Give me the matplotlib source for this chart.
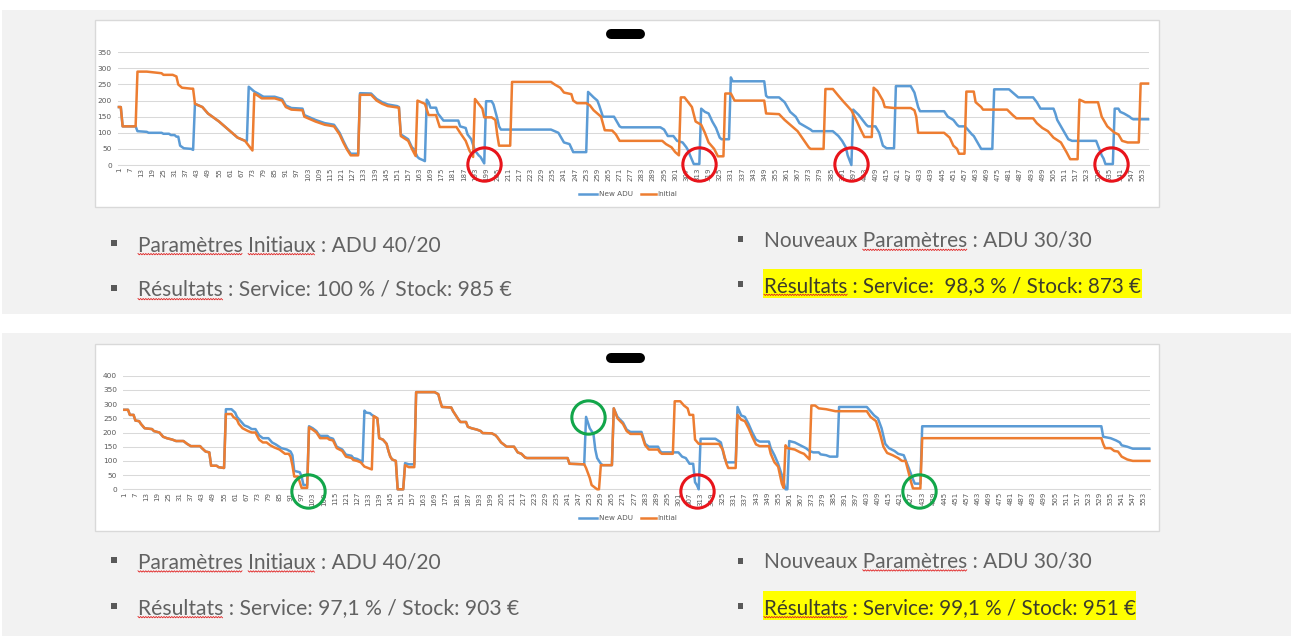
import matplotlib
matplotlib.use("Agg")
import matplotlib.pyplot as plt
from matplotlib.patches import Rectangle
from matplotlib.lines import Line2D
from matplotlib.font_manager import FontProperties
import numpy as np

# ---------------- data ----------------
n_days = 556
series_labels = ["New ADU", "Initial"]
x_ticks = list(range(1, 554, 6))
top_yticks = [0, 50, 100, 150, 200, 250, 300, 350]
bot_yticks = [0, 50, 100, 150, 200, 250, 300, 350, 400]

top_new = [(1,180),(2,180),(3,120),(10,120),(11,105),(16,103),(17,100),(24,100),(25,97),(28,97),(29,93),(31,93),(32,88),(33,88),(34,60),(36,52),(40,50),(41,47),(42,190),(46,180),(49,160),(55,135),(60,110),(65,85),(69,75),(70,75),(71,243),(72,238),(74,228),(76,222),(78,215),(79,212),(85,212),(89,205),(91,185),(94,177),(100,175),(101,155),(107,140),(112,130),(117,125),(120,100),(122,75),(124,52),(126,35),(130,35),(131,223),(137,222),(140,205),(143,195),(146,188),(151,183),(152,180),(153,95),(157,80),(159,55),(160,50),(162,25),(163,20),(165,15),(166,12),(167,203),(168,195),(169,178),(172,178),(173,160),(176,138),(184,138),(185,120),(188,115),(189,95),(191,80),(193,45),(195,30),(196,25),(197,15),(198,5),(199,198),(202,198),(203,188),(205,145),(206,120),(207,110),(234,110),(236,105),(238,100),(239,90),(241,70),(244,65),(246,40),(253,40),(254,227),(257,210),(259,200),(260,185),(262,150),(268,150),(269,140),(271,120),(272,117),(293,117),(295,110),(297,90),(300,90),(302,75),(305,70),(307,55),(308,45),(309,30),(311,3),(314,3),(315,175),(317,165),(319,160),(321,135),(323,115),(325,85),(326,80),(330,80),(331,272),(332,260),(349,260),(350,215),(351,210),(357,210),(360,195),(361,185),(363,165),(366,150),(368,130),(371,120),(374,110),(375,105),(386,105),(389,90),(391,75),(393,55),(394,30),(396,0),(397,172),(400,155),(402,140),(404,125),(405,120),(409,120),(411,100),(413,60),(415,52),(419,52),(420,245),(428,245),(430,225),(432,180),(433,167),(446,167),(448,150),(451,140),(453,125),(454,120),(457,120),(458,115),(461,95),(462,90),(464,70),(466,50),(472,50),(473,235),(481,235),(483,225),(485,215),(486,210),(494,210),(496,195),(498,175),(505,175),(506,160),(507,140),(509,120),(511,100),(513,80),(515,75),(528,75),(529,60),(530,45),(531,30),(532,20),(533,3),(537,3),(538,175),(540,175),(541,165),(543,160),(546,150),(547,145),(548,142),(556,142)]

top_init = [(1,180),(2,180),(3,120),(10,120),(11,290),(16,290),(24,285),(25,280),(30,280),(32,275),(33,250),(35,240),(40,237),(41,237),(42,190),(46,180),(49,160),(55,135),(60,110),(65,85),(69,75),(71,60),(73,45),(74,222),(76,215),(78,207),(85,207),(89,200),(91,180),(94,172),(100,170),(101,150),(107,135),(112,125),(117,120),(120,95),(122,70),(124,48),(126,30),(130,30),(131,218),(137,218),(140,200),(143,190),(146,183),(152,178),(153,90),(157,75),(159,50),(161,28),(162,200),(166,190),(168,155),(172,155),(174,118),(183,118),(185,100),(188,75),(190,45),(192,25),(193,205),(195,190),(197,175),(198,148),(202,148),(204,140),(205,95),(206,60),(212,60),(213,258),(234,258),(236,250),(239,240),(241,225),(245,220),(246,200),(248,192),(253,192),(255,185),(257,170),(259,160),(261,150),(263,108),(267,107),(269,95),(271,75),(294,75),(296,65),(299,55),(301,40),(303,30),(304,210),(306,210),(308,195),(310,180),(312,135),(315,125),(317,100),(319,70),(322,50),(324,27),(327,27),(328,222),(331,222),(333,200),(349,200),(350,160),(357,158),(360,140),(364,120),(367,105),(370,80),(373,55),(374,50),(381,50),(382,236),(386,236),(389,215),(392,195),(396,170),(399,135),(401,110),(403,87),(407,87),(408,240),(410,230),(413,200),(414,180),(419,177),(428,177),(430,170),(431,150),(432,100),(446,100),(449,85),(451,60),(453,50),(454,35),(457,35),(458,228),(462,228),(463,195),(466,180),(467,172),(480,172),(483,155),(485,145),(494,145),(496,130),(499,115),(502,105),(505,85),(509,70),(512,40),(514,18),(518,18),(519,203),(522,195),(529,195),(531,150),(534,120),(535,115),(538,100),(540,95),(542,75),(545,70),(551,70),(552,253),(556,253)]

bot_new = [(1,280),(3,280),(4,262),(6,262),(7,242),(9,240),(10,230),(12,215),(16,212),(17,205),(20,200),(22,185),(24,180),(27,175),(29,170),(33,170),(35,160),(37,152),(42,152),(43,145),(45,133),(47,130),(48,83),(51,83),(52,78),(55,75),(56,282),(59,282),(61,270),(62,255),(64,240),(66,225),(68,220),(70,212),(72,212),(74,190),(76,180),(79,180),(81,165),(83,158),(86,145),(89,140),(91,133),(92,120),(93,65),(96,60),(97,45),(98,15),(100,15),(101,222),(103,215),(105,205),(106,195),(107,188),(111,188),(112,182),(114,178),(116,150),(119,140),(121,122),(124,118),(125,110),(127,107),(129,100),(130,97),(131,277),(132,270),(134,268),(135,262),(136,258),(138,250),(139,180),(141,175),(143,160),(144,135),(145,115),(146,105),(148,100),(149,0),(152,0),(153,92),(155,88),(158,88),(159,342),(169,342),(171,335),(172,310),(173,290),(178,288),(179,275),(180,265),(182,245),(183,237),(186,237),(187,220),(189,215),(192,210),(194,205),(195,198),(200,197),(202,190),(203,183),(205,165),(207,155),(208,150),(212,150),(214,130),(216,125),(218,112),(219,110),(241,110),(242,90),(250,88),(251,255),(253,215),(255,195),(256,140),(257,110),(259,90),(260,85),(265,85),(266,285),(268,255),(271,235),(273,210),(275,202),(281,202),(283,160),(285,150),(290,150),(291,135),(292,130),(301,130),(303,115),(305,110),(307,90),(309,90),(310,25),(311,15),(312,0),(313,178),(321,178),(324,165),(326,110),(327,95),(332,95),(333,290),(335,260),(337,255),(339,230),(341,200),(343,175),(345,168),(350,168),(351,145),(353,120),(355,90),(357,50),(359,0),(360,0),(361,170),(364,165),(367,155),(370,145),(372,135),(374,130),(377,130),(378,123),(381,120),(383,115),(387,115),(388,290),(403,290),(405,275),(407,260),(409,250),(411,215),(413,160),(415,145),(418,135),(420,125),(423,120),(426,70),(428,35),(429,20),(432,20),(433,222),(530,222),(531,185),(535,180),(538,172),(540,165),(541,155),(544,150),(547,143),(556,143)]

bot_init = [(1,280),(3,280),(4,262),(6,262),(7,242),(9,240),(10,230),(12,215),(16,212),(17,205),(20,200),(22,185),(24,180),(27,175),(29,170),(33,170),(35,160),(37,152),(42,152),(43,145),(45,133),(47,130),(48,83),(51,83),(52,78),(55,75),(56,265),(59,265),(60,255),(62,245),(63,230),(65,215),(68,205),(70,200),(72,200),(74,175),(76,165),(78,165),(80,155),(82,148),(85,140),(87,130),(88,125),(90,125),(91,115),(92,85),(93,45),(95,45),(96,25),(97,5),(100,5),(101,218),(103,210),(105,200),(106,190),(107,180),(111,180),(112,175),(114,172),(116,145),(119,135),(121,115),(124,110),(125,103),(127,100),(129,95),(131,80),(133,75),(135,70),(136,258),(138,250),(139,180),(141,175),(143,160),(144,135),(145,115),(146,105),(148,100),(149,0),(152,0),(153,85),(155,78),(158,78),(159,342),(169,342),(171,335),(172,310),(173,290),(178,288),(179,275),(180,265),(182,245),(183,237),(186,237),(187,220),(189,215),(192,210),(194,205),(195,198),(200,197),(202,190),(203,183),(205,165),(207,155),(208,150),(212,150),(214,130),(216,125),(218,112),(219,110),(241,110),(242,90),(250,88),(251,75),(253,40),(254,15),(256,5),(257,0),(258,0),(259,85),(265,85),(266,285),(268,250),(271,230),(273,205),(275,195),(281,195),(283,155),(285,140),(290,140),(291,130),(292,125),(298,125),(299,310),(302,310),(304,295),(306,285),(307,262),(309,262),(310,175),(312,160),(323,160),(325,140),(327,90),(328,75),(332,75),(333,262),(335,245),(337,240),(339,215),(341,185),(343,158),(345,152),(350,152),(351,125),(353,95),(355,80),(357,20),(358,5),(359,155),(360,145),(364,140),(367,130),(369,125),(372,105),(373,295),(375,295),(377,285),(381,282),(386,275),(403,275),(405,255),(408,240),(410,200),(412,150),(414,128),(417,120),(420,110),(422,100),(424,100),(426,50),(427,25),(428,3),(432,3),(433,180),(530,180),(531,160),(532,145),(535,145),(537,135),(539,133),(541,115),(544,105),(547,100),(556,100)]

# annotation circles (day, value, colour)
top_circles = [(198, 3, "red"), (314, 3, "red"), (396, 3, "red"), (536, 3, "red")]
bot_circles = [(100.6, -6, "green"), (311.2, -6, "red"), (252.2, 254, "green"), (431.4, -6, "green")]

top_texts = ["Paramètres Initiaux : ADU 40/20",
             "Résultats : Service: 100 % / Stock: 985 €",
             "Nouveaux Paramètres : ADU 30/30",
             "Résultats : Service:  98,3 % / Stock: 873 €"]
bot_texts = ["Paramètres Initiaux : ADU 40/20",
             "Résultats : Service: 97,1 % / Stock: 903 €",
             "Nouveaux Paramètres : ADU 30/30",
             "Résultats : Service: 99,1 % / Stock: 951 €"]

# ---------------- styling ----------------
W, H = 1291, 636
BLUE = "#5b9bd5"
ORANGE = "#ed7d31"
GREY_TXT = "#595959"
BODY_TXT = "#626262"
GRID = "#d9d9d9"
PANEL = "#f2f2f2"
CIRC = {"red": "#e8141b", "green": "#12a64a"}

fig = plt.figure(figsize=(W / 100, H / 100), dpi=100)
fig.patch.set_facecolor("white")


def fx(x):
    return x / W


def fy(y):
    return 1 - y / H


def frect(x0, y0, x1, y1, **kw):
    r = Rectangle((fx(x0), fy(y1)), (x1 - x0) / W, (y1 - y0) / H,
                  transform=fig.transFigure, **kw)
    fig.patches.append(r)
    return r


# grey slide panels
frect(2, 10, W, 314, facecolor=PANEL, edgecolor="none", zorder=-5)
frect(2, 333, W, H, facecolor=PANEL, edgecolor="none", zorder=-5)
# chart boxes
frect(95, 20, 1159, 207, facecolor="white", edgecolor=GRID, lw=1, zorder=-4)
frect(95, 344, 1159, 531, facecolor="white", edgecolor=GRID, lw=1, zorder=-4)


def make_chart(box, ymax, yticks, s_new, s_init, circles, legend_y, blob_y):
    l, t, r, b = box
    ax = fig.add_axes([fx(l), fy(b), (r - l) / W, (b - t) / H])
    ax.set_facecolor("none")
    xn, yn = zip(*s_new)
    xi, yi = zip(*s_init)
    ax.plot(xn, yn, color=BLUE, lw=1.8, clip_on=False, zorder=3,
            solid_joinstyle="round")
    ax.plot(xi, yi, color=ORANGE, lw=1.8, clip_on=False, zorder=4,
            solid_joinstyle="round")
    for cx, cy, c in circles:
        ax.plot([cx], [cy], "o", ms=24, mfc="none", mec=CIRC[c], mew=2.2,
                clip_on=False, zorder=6)
    ax.set_xlim(0.5, n_days + 0.5)
    ax.set_ylim(0, ymax)
    ax.set_xticks(x_ticks)
    ax.set_xticklabels([str(v) for v in x_ticks], rotation=90)
    ax.set_yticks(yticks)
    ax.tick_params(axis="x", length=0, labelsize=5, labelcolor=GREY_TXT, pad=2)
    ax.tick_params(axis="y", length=0, labelsize=5.3, labelcolor=GREY_TXT, pad=4.5)
    ax.grid(axis="y", color=GRID, lw=0.75, zorder=0)
    ax.set_axisbelow(True)
    for s in ("left", "right", "top"):
        ax.spines[s].set_visible(False)
    ax.spines["bottom"].set_color(GRID)
    ax.spines["bottom"].set_linewidth(0.75)
    # legend
    for x0, x1, col, lab, tx in [(579, 597, BLUE, series_labels[0], 599),
                                 (641, 656, ORANGE, series_labels[1], 657.5)]:
        fig.lines.append(Line2D([fx(x0), fx(x1)], [fy(legend_y)] * 2,
                                transform=fig.transFigure, color=col, lw=1.8))
        fig.text(fx(tx), fy(legend_y), lab, fontsize=5.2, color=GREY_TXT,
                 va="center", ha="left")
    # redacted title blob
    fig.lines.append(Line2D([fx(611), fx(640)], [fy(blob_y)] * 2,
                            transform=fig.transFigure, color="black",
                            lw=7.2, solid_capstyle="round"))
    return ax


make_chart((118, 52.3, 1149, 165), 350, top_yticks, top_new, top_init,
           top_circles, 194, 34)
make_chart((123.4, 375.7, 1150.3, 489.3), 400, bot_yticks, bot_new, bot_init,
           bot_circles, 518, 358)

# ---------------- bullet texts ----------------
FAMILY = ["Lato", "DejaVu Sans"]
renderer = fig.canvas.get_renderer()


def tw(s, prop):
    w, h, d = renderer.get_text_width_height_descent(s, prop, ismath=False)
    return w


def squiggle(x0, x1, y):
    xs = np.arange(x0, x1 + 0.01, 1.3)
    ys = y + np.where(np.arange(len(xs)) % 2 == 0, 0.0, 1.3)
    fig.lines.append(Line2D([fx(v) for v in xs], [fy(v) for v in ys],
                            transform=fig.transFigure, color="#e02020",
                            lw=0.6, zorder=5))


def bullet_line(text, x, base, bx, by, color, words, target_w, weight):
    p10 = FontProperties(family=FAMILY, size=10, weight=weight)
    fs = 10 * target_w / tw(text, p10)
    prop = FontProperties(family=FAMILY, size=fs, weight=weight)
    frect(bx, by, bx + 5.5, by + 5.5, facecolor="#595959", edgecolor="none",
          zorder=2)
    fig.text(fx(x), fy(base), text, fontproperties=prop, color=color,
             ha="left", va="baseline", zorder=4)
    for wd in words:
        i = text.index(wd)
        end = tw(text[:i + len(wd)], prop)
        start = end - tw(wd, prop)
        squiggle(x + start, x + end, base + 2.5)


rows = [
    (top_texts, [302, 373, 326, 376], 251, 296, 246.7, 291.7, 240, 285, 236, 281,
     (269.3, 298.3, 1141.7)),
    (bot_texts, [302, 379, 326, 371], 568.3, 614, 567.3, 614, 557.3, 603, 558.3, 603,
     (590.7, 620, 1136)),
]
for texts, wids, b1, b2, b3, b4, by1, by2, by3, by4, hl in rows:
    bullet_line(texts[0], 138, b1, 111, by1, BODY_TXT, ["Paramètres", "Initiaux"],
                wids[0], "normal")
    bullet_line(texts[1], 138, b2, 111, by2, BODY_TXT, ["Résultats"],
                wids[1], "normal")
    bullet_line(texts[2], 764, b3, 737.5, by3, BODY_TXT, ["Paramètres"],
                wids[2], "normal")
    frect(762.7, hl[0], hl[2], hl[1], facecolor="#ffff00", edgecolor="none",
          zorder=1)
    bullet_line(texts[3], 764, b4, 737.5, by4, "#3c3c2c", ["Résultats"],
                wids[3], "normal")

fig.savefig("out.png", dpi=100, facecolor="white")
